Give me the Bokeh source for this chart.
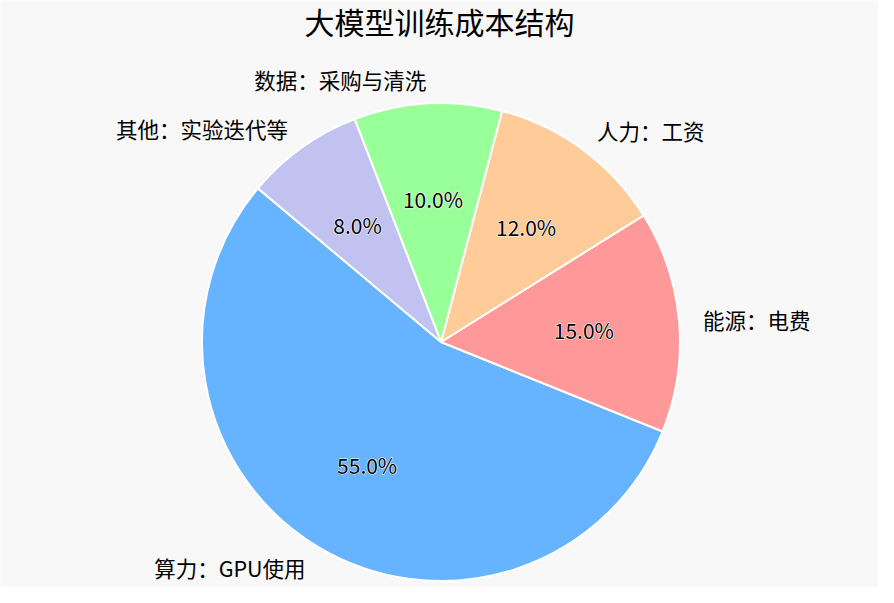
import numpy as np
from bokeh.plotting import figure
from bokeh.models import Range1d, ColumnDataSource
from bokeh.core.properties import value
from bokeh.embed import file_html
from bokeh.resources import INLINE

labels = ["算力：GPU使用", "能源：电费", "人力：工资", "数据：采购与清洗", "其他：实验迭代等"]
values = [55, 15, 12, 10, 8]
colors = ["#66b3ff", "#ff9999", "#ffcc99", "#99ff99", "#c2c2f0"]
title = "大模型训练成本结构"
start_deg = 140

W, H = 878, 587
cx, cy, r = 440.5, 245.5, 239.0
font = "Noto Sans CJK SC"
bg = "#f8f8f8"

vals = np.array(values, dtype=float)
frac = vals / vals.sum()
ang = frac * 2 * np.pi
starts = np.deg2rad(start_deg) + np.concatenate([[0], np.cumsum(ang)[:-1]])
ends = starts + ang
mids = (starts + ends) / 2

src = ColumnDataSource(dict(
    x=[cx] * len(vals), y=[cy] * len(vals),
    start=starts, end=ends, color=colors,
))

p = figure(width=W, height=H, x_range=Range1d(0, W), y_range=Range1d(0, H),
           output_backend="svg", toolbar_location=None, min_border=0)
p.axis.visible = False
p.grid.visible = False
p.outline_line_color = None
p.background_fill_color = bg
p.border_fill_color = bg

p.wedge(x="x", y="y", radius=r, start_angle="start", end_angle="end",
        fill_color="color", line_color="white", line_width=2, source=src)

# outer labels
lx = cx + 1.1 * r * np.cos(mids)
ly = cy + 1.1 * r * np.sin(mids)
align = ["left" if np.cos(m) > 0 else "right" for m in mids]
lab_src = ColumnDataSource(dict(x=lx, y=ly, t=labels, a=align))
p.text(x="x", y="y", text="t", text_align="a", text_baseline="middle",
       text_font=value(font), text_font_size="21.5px", text_color="black",
       source=lab_src)

# percent labels (white halo underneath, black text on top)
px = cx + 0.6 * r * np.cos(mids)
py = cy + 0.6 * r * np.sin(mids)
pct = [f"{f * 100:.1f}%" for f in frac]
pct_src = ColumnDataSource(dict(x=px, y=py, t=pct))
p.text(x="x", y="y", text="t", text_align="center", text_baseline="middle",
       text_font=value(font), text_font_size="21px", text_color="white",
       text_outline_color="white", source=pct_src)
p.text(x="x", y="y", text="t", text_align="center", text_baseline="middle",
       text_font=value(font), text_font_size="21px", text_color="black",
       source=pct_src)

# title
p.text(x=[W / 2], y=[567], text=[title], text_align="center", text_baseline="middle",
       text_font=value(font), text_font_size="30px", text_color="black")

open("out.html", "w").write(file_html(p, INLINE))
